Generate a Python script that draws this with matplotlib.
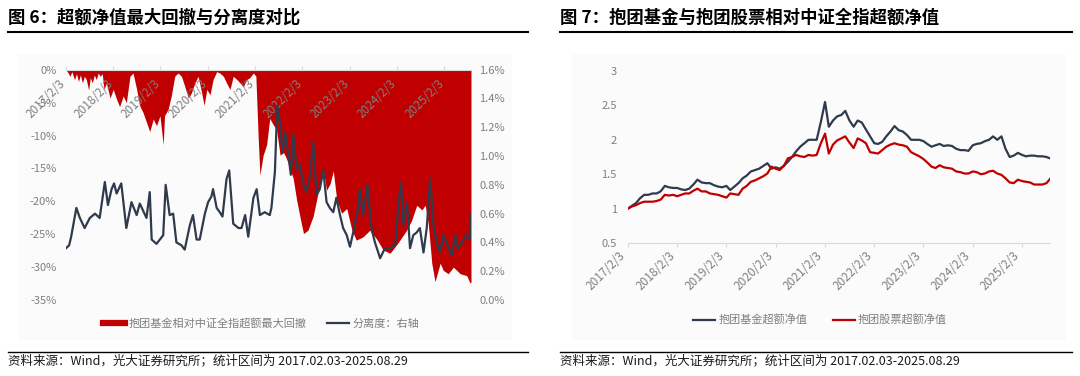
import matplotlib
matplotlib.use('Agg')
import matplotlib.pyplot as plt
import matplotlib.ticker as mticker
import pandas as pd
from matplotlib.lines import Line2D
from matplotlib.patches import Rectangle

plt.rcParams['font.family'] = ['Noto Sans CJK SC', 'DejaVu Sans']
plt.rcParams['axes.unicode_minus'] = False

RED = '#C00000'
DARK = '#2F3B4C'
GRAY = '#7F7F7F'
AXIS = '#D9D9D9'

# ---------------- data: 图 6 ----------------
dd_dates = ['2017-02-03', '2017-02-20', '2017-03-05', '2017-03-20', '2017-04-10', '2017-04-25',
            '2017-05-10', '2017-05-25', '2017-06-10', '2017-06-25', '2017-07-10', '2017-07-28',
            '2017-08-10', '2017-08-25', '2017-09-10', '2017-09-25', '2017-10-10', '2017-10-25',
            '2017-11-10', '2017-11-24', '2017-12-12', '2018-01-09', '2018-02-03', '2018-03-01',
            '2018-03-24', '2018-04-21', '2018-05-15', '2018-06-12', '2018-07-06', '2018-08-03',
            '2018-08-27', '2018-09-21', '2018-10-18', '2018-11-12', '2018-12-09', '2019-01-03',
            '2019-01-30', '2019-02-24', '2019-03-06', '2019-04-03', '2019-04-27', '2019-05-24',
            '2019-06-18', '2019-07-15', '2019-08-09', '2019-09-06', '2019-09-30', '2019-10-27',
            '2019-11-21', '2019-12-18', '2020-01-06', '2020-01-27', '2020-02-21', '2020-03-15',
            '2020-04-12', '2020-05-06', '2020-06-03', '2020-06-27', '2020-07-24', '2020-08-18',
            '2020-09-15', '2020-10-09', '2020-11-03', '2020-11-30', '2020-12-24', '2021-01-21',
            '2021-02-09', '2021-02-27', '2021-03-12', '2021-04-06', '2021-05-03', '2021-05-27',
            '2021-06-24', '2021-07-18', '2021-08-15', '2021-09-09', '2021-10-03', '2021-10-30',
            '2021-11-24', '2021-12-21', '2022-01-15', '2022-02-12', '2022-03-18', '2022-04-27',
            '2022-05-24', '2022-06-18', '2022-07-15', '2022-08-09', '2022-09-06', '2022-09-30',
            '2022-10-27', '2022-12-03', '2023-01-12', '2023-02-21', '2023-03-27', '2023-05-18',
            '2023-07-09', '2023-08-30', '2023-10-21', '2023-12-12', '2024-01-21', '2024-02-27',
            '2024-04-18', '2024-05-27', '2024-07-06', '2024-08-15', '2024-09-09', '2024-10-03',
            '2024-10-30', '2024-11-24', '2025-01-03', '2025-01-27', '2025-03-06', '2025-04-15',
            '2025-06-06', '2025-07-27', '2025-08-21', '2025-08-29']
dd_vals = [0, -0.5, -1.0, -0.3, -1.5, -0.6,
           -1.8, -0.8, -2.0, -1.0, -1.5, -3.1,
           -1.2, -2.0, -0.8, -1.5, -0.5, -1.0,
           -0.6, -3.0, -2.0, -4.3, -3.0, -4.5,
           -5.6, -4.0, -5.0, -1.0, -0.5, -3.0,
           -5.5, -6.5, -8.0, -9.4, -7.5, -8.5,
           -7.0, -11.4, -7.0, -6.0, -4.0, -1.0,
           -0.5, -1.0, -2.5, -4.3, -3.5, -2.0,
           -1.0, -3.5, -5.4, -3.0, -3.8, -1.5,
           -0.3, -0.5, -1.0, -2.0, -3.0, -1.0,
           -1.5, -2.0, -2.6, -1.5, -1.2, -0.5,
           -1.0, -10.4, -16.0, -13.0, -11.4, -7.4,
           -8.4, -9.0, -13.0, -12.5, -13.5, -15.0,
           -16.5, -19.8, -22.3, -24.9, -24.4, -22.3,
           -19.8, -17.3, -15.2, -18.3, -17.3, -15.4,
           -19.8, -21.8, -21.1, -24.4, -25.9, -25.4,
           -24.4, -25.7, -27.4, -27.9, -26.9, -25.9,
           -24.4, -22.9, -20.6, -21.3, -20.6, -23.4,
           -29.4, -32.2, -29.4, -30.5, -31.0, -30.0,
           -31.0, -31.3, -32.4, -32.3]

sep_dates = ['2017-02-03', '2017-02-27', '2017-03-15', '2017-04-24', '2017-05-21', '2017-06-27',
             '2017-08-06', '2017-09-15', '2017-10-21', '2017-11-30', '2017-12-24', '2018-01-21',
             '2018-02-09', '2018-03-01', '2018-04-06', '2018-05-15', '2018-06-24', '2018-08-03',
             '2018-08-27', '2018-10-18', '2018-11-12', '2018-11-27', '2019-01-03', '2019-02-24',
             '2019-03-15', '2019-04-15', '2019-05-12', '2019-06-06', '2019-07-15', '2019-08-09',
             '2019-09-18', '2019-10-12', '2019-11-09', '2019-12-03', '2020-01-12', '2020-02-06',
             '2020-03-03', '2020-03-15', '2020-04-12', '2020-05-06', '2020-05-27', '2020-06-27',
             '2020-07-18', '2020-08-18', '2020-09-27', '2020-10-21', '2020-11-18', '2020-12-12',
             '2021-01-21', '2021-02-15', '2021-03-12', '2021-04-18', '2021-05-27', '2021-06-09',
             '2021-07-06', '2021-07-24', '2021-08-15', '2021-09-03', '2021-09-21', '2021-10-18',
             '2021-11-06', '2021-11-24', '2021-12-21', '2022-01-15', '2022-02-12', '2022-03-06',
             '2022-04-03', '2022-04-27', '2022-05-24', '2022-06-18', '2022-07-15', '2022-08-09',
             '2022-09-03', '2022-09-30', '2022-10-24', '2022-11-21', '2022-12-15', '2023-01-12',
             '2023-02-06', '2023-03-03', '2023-04-03', '2023-04-24', '2023-05-18', '2023-06-21',
             '2023-07-21', '2023-08-18', '2023-09-27', '2023-11-03', '2023-12-12', '2024-01-21',
             '2024-02-15', '2024-03-06', '2024-03-24', '2024-04-21', '2024-05-15', '2024-06-09',
             '2024-07-06', '2024-07-30', '2024-08-27', '2024-09-21', '2024-10-18', '2024-11-12',
             '2024-12-06', '2025-01-03', '2025-01-27', '2025-02-24', '2025-04-03', '2025-04-27',
             '2025-05-21', '2025-06-18', '2025-07-24', '2025-08-18', '2025-08-29']
sep_vals = [0.36, 0.38, 0.44, 0.64, 0.57, 0.50,
            0.57, 0.60, 0.57, 0.82, 0.66, 0.77,
            0.81, 0.74, 0.81, 0.50, 0.68, 0.59,
            0.67, 0.57, 0.75, 0.42, 0.39, 0.45,
            0.80, 0.59, 0.60, 0.40, 0.38, 0.35,
            0.52, 0.59, 0.42, 0.42, 0.60, 0.68,
            0.72, 0.77, 0.64, 0.61, 0.58, 0.84,
            0.90, 0.53, 0.50, 0.50, 0.59, 0.44,
            0.71, 0.77, 0.59, 0.61, 0.59, 0.64,
            0.89, 1.35, 1.22, 1.02, 1.17, 1.01,
            0.87, 1.15, 0.91, 0.94, 0.80, 0.75,
            0.87, 1.10, 0.73, 0.77, 0.90, 0.68,
            0.64, 0.61, 0.71, 0.59, 0.50, 0.45,
            0.37, 0.47, 0.61, 0.77, 0.59, 0.80,
            0.50, 0.40, 0.29, 0.36, 0.36, 0.38,
            0.66, 0.82, 0.52, 0.68, 0.36, 0.45,
            0.47, 0.50, 0.33, 0.50, 0.84, 0.52,
            0.40, 0.33, 0.45, 0.39, 0.31, 0.45,
            0.36, 0.40, 0.45, 0.42, 0.59]

# ---------------- data: 图 7 (monthly, 2017-02 .. 2025-08, plus last day) ----------------
fund_excess = [1.00, 1.04, 1.08, 1.15, 1.20, 1.20, 1.22, 1.22, 1.25, 1.33, 1.31,
               1.30, 1.30, 1.28, 1.27, 1.29, 1.35, 1.42, 1.38, 1.37, 1.37, 1.34, 1.32,
               1.31, 1.33, 1.27, 1.32, 1.37, 1.44, 1.48, 1.54, 1.56, 1.58, 1.62, 1.66,
               1.58, 1.60, 1.58, 1.62, 1.68, 1.75, 1.83, 1.90, 1.95, 2.00, 2.00, 2.00,
               2.26, 2.55, 2.19, 2.28, 2.34, 2.36, 2.42, 2.28, 2.19, 2.28, 2.25, 2.15,
               2.05, 1.95, 1.94, 1.97, 2.05, 2.12, 2.20, 2.14, 2.12, 2.07, 2.00, 2.00,
               2.00, 1.98, 1.94, 1.90, 1.92, 1.94, 1.91, 1.92, 1.91, 1.87, 1.85, 1.85,
               1.84, 1.92, 1.94, 1.95, 1.98, 2.00, 2.05, 2.00, 2.05, 1.87, 1.75, 1.77,
               1.81, 1.78, 1.76, 1.77, 1.77, 1.76, 1.76, 1.75, 1.73]
stock_excess = [1.00, 1.03, 1.05, 1.08, 1.10, 1.10, 1.10, 1.11, 1.13, 1.20, 1.19,
                1.20, 1.18, 1.20, 1.22, 1.22, 1.26, 1.29, 1.25, 1.25, 1.22, 1.21, 1.20,
                1.18, 1.16, 1.22, 1.21, 1.20, 1.29, 1.33, 1.39, 1.41, 1.44, 1.47, 1.51,
                1.61, 1.58, 1.56, 1.62, 1.73, 1.75, 1.78, 1.76, 1.75, 1.78, 1.77, 1.78,
                1.95, 2.09, 1.80, 1.93, 1.99, 2.02, 2.05, 1.96, 1.88, 2.02, 1.99, 1.95,
                1.82, 1.81, 1.80, 1.85, 1.90, 1.93, 1.95, 1.93, 1.92, 1.90, 1.82, 1.79,
                1.76, 1.72, 1.67, 1.61, 1.59, 1.63, 1.60, 1.59, 1.58, 1.54, 1.53, 1.51,
                1.51, 1.54, 1.53, 1.50, 1.51, 1.54, 1.55, 1.51, 1.49, 1.44, 1.38, 1.37,
                1.42, 1.40, 1.39, 1.38, 1.35, 1.35, 1.35, 1.37, 1.43]

start, end = pd.Timestamp('2017-02-03'), pd.Timestamp('2025-08-29')
nav_dates = list(pd.date_range(start, periods=len(fund_excess) - 1,
                               freq=pd.DateOffset(months=1))) + [end]
tick_dates = pd.date_range(start, periods=9, freq=pd.DateOffset(years=1))
tick_labels = ['%d/2/3' % d.year for d in tick_dates]

# ---------------- figure ----------------
W, H = 1080, 376
fig = plt.figure(figsize=(W / 100, H / 100), dpi=100)

def fx(px):
    return px / W

def fy(py):
    return 1 - py / H

# faint panel backgrounds
for x0, w in [(18, 494), (572, 494)]:
    fig.patches.append(Rectangle((fx(x0), fy(340)), fx(w), 286 / H, facecolor='#FBFBFB',
                                 edgecolor='none', transform=fig.transFigure, zorder=-5))

# titles, rules, sources
fig.text(fx(8), fy(18), '图 6：超额净值最大回撤与分离度对比', fontsize=12.5,
         fontweight='bold', va='center', ha='left')
fig.text(fx(560), fy(18), '图 7：抱团基金与抱团股票相对中证全指超额净值', fontsize=12.5,
         fontweight='bold', va='center', ha='left')
for x0, x1 in [(8, 528), (560, 1072)]:
    fig.add_artist(Line2D([fx(x0), fx(x1)], [fy(32), fy(32)], color='black', lw=1.5))
    fig.add_artist(Line2D([fx(x0), fx(x1)], [fy(352), fy(352)], color='black', lw=1.0))
src = '资料来源：Wind，光大证券研究所；统计区间为 2017.02.03-2025.08.29'
fig.text(fx(8), fy(361), src, fontsize=9, va='center', ha='left', color='#1A1A1A')
fig.text(fx(560), fy(361), src, fontsize=9, va='center', ha='left', color='#1A1A1A')

# ---------------- 图 6 ----------------
ax1 = fig.add_axes([fx(66), fy(300), fx(405), 230.3 / H])
ax1.patch.set_alpha(0)
ax1.fill_between(pd.to_datetime(dd_dates), dd_vals, 0, color=RED, lw=0)
ax1.set_xlim(start, end)
ax1.set_ylim(-35, 0)
ax1.set_yticks(range(-35, 1, 5))
ax1.yaxis.set_major_formatter(mticker.FuncFormatter(lambda v, p: '%d%%' % v))
for s in ['left', 'right', 'bottom']:
    ax1.spines[s].set_visible(False)
ax1.spines['top'].set_color(AXIS)
ax1.xaxis.tick_top()
ax1.set_xticks(tick_dates)
ax1.tick_params(axis='x', length=3, color=AXIS, labeltop=False)
ax1.tick_params(axis='y', length=0, pad=7, labelsize=8, labelcolor=GRAY)
for d, lab in zip(tick_dates, tick_labels):
    ax1.annotate(lab, xy=(d, 0), xytext=(1.5, -5), textcoords='offset points',
                 rotation=45, ha='right', va='top', fontsize=8.5, color=GRAY,
                 annotation_clip=False)

ax2 = ax1.twinx()
ax2.plot(pd.to_datetime(sep_dates), sep_vals, color=DARK, lw=1.6)
ax2.set_ylim(0, 1.6)
ax2.set_yticks([i * 0.2 for i in range(9)])
ax2.yaxis.set_major_formatter(mticker.FuncFormatter(lambda v, p: '%.1f%%' % v))
for s in ax2.spines.values():
    s.set_visible(False)
ax2.tick_params(axis='y', length=0, pad=6, labelsize=8, labelcolor=GRAY)
ax2.set_xlim(start, end)

fig.legend(handles=[Line2D([], [], color=RED, lw=4.5), Line2D([], [], color=DARK, lw=1.6)],
           labels=['抱团基金相对中证全指超额最大回撤', '分离度：右轴'],
           loc='center', bbox_to_anchor=(fx(261), fy(323)), ncol=2, frameon=False,
           fontsize=8, labelcolor=GRAY, handlelength=2.0, handletextpad=0.3,
           columnspacing=1.8)

# ---------------- 图 7 ----------------
ax3 = fig.add_axes([fx(628), fy(243), fx(422), 172 / H])
ax3.patch.set_alpha(0)
ax3.plot(nav_dates, fund_excess, color=DARK, lw=1.6, label='抱团基金超额净值')
ax3.plot(nav_dates, stock_excess, color=RED, lw=1.6, label='抱团股票超额净值')
ax3.set_xlim(start, end)
ax3.set_ylim(0.5, 3)
ax3.set_yticks([0.5, 1, 1.5, 2, 2.5, 3])
ax3.yaxis.set_major_formatter(mticker.FuncFormatter(lambda v, p: '%g' % v))
for s in ['left', 'right', 'top']:
    ax3.spines[s].set_visible(False)
ax3.spines['bottom'].set_color(AXIS)
ax3.set_xticks(tick_dates)
ax3.set_xticklabels(tick_labels, rotation=45, ha='right', rotation_mode='default')
ax3.tick_params(axis='x', length=3, color=AXIS, labelsize=8.5, labelcolor=GRAY, pad=1)
ax3.tick_params(axis='y', length=0, pad=8, labelsize=8, labelcolor=GRAY)

fig.legend(handles=ax3.get_lines(), labels=['抱团基金超额净值', '抱团股票超额净值'],
           loc='center', bbox_to_anchor=(fx(820), fy(320)), ncol=2, frameon=False,
           fontsize=8, labelcolor=GRAY, handlelength=2.0, handletextpad=0.3,
           columnspacing=2.25)

fig.savefig('out.png', dpi=100)
